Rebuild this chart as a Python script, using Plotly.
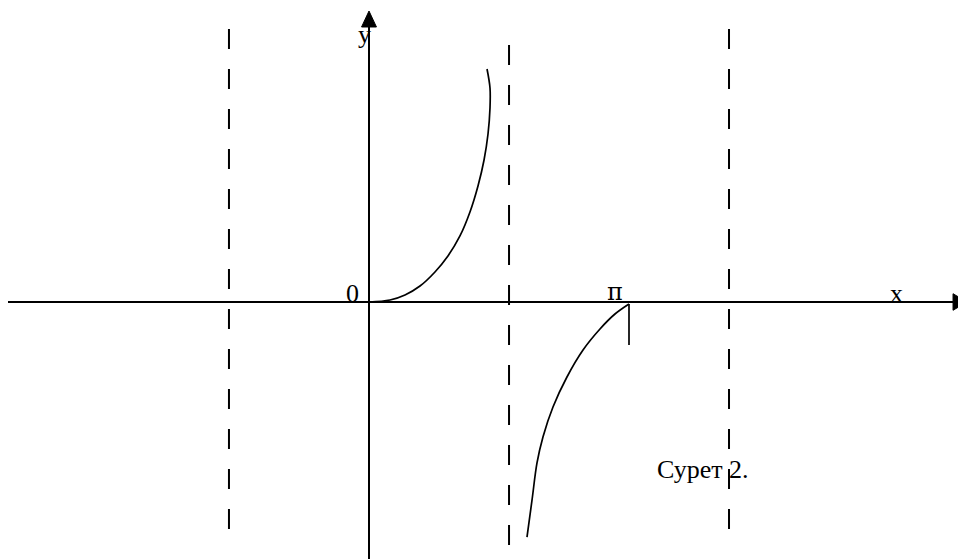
import plotly.graph_objects as go

# Scale: pixels per unit, chosen so that x = pi sits on the tick mark
UNIT = 82.76

# Vertical asymptotes (dashed)
asymptote_x = [-1.692, 1.692, 4.35]
asymptote_top = [3.299, 3.105, 3.299]
asymptote_bottom = -2.985

# Upper branch, rising from the origin towards the asymptote
branch1_x = [0.0, 0.254, 0.435, 0.616, 0.797, 0.954, 1.099, 1.220, 1.317, 1.390, 1.438, 1.462, 1.462, 1.426]
branch1_y = [0.0, 0.024, 0.085, 0.193, 0.363, 0.556, 0.798, 1.088, 1.402, 1.716, 2.030, 2.344, 2.586, 2.815]

# Lower branch, coming up to the x axis at pi
branch2_x = [1.909, 1.970, 2.030, 2.102, 2.223, 2.392, 2.586, 2.791, 2.972, 3.142]
branch2_y = [-2.840, -2.392, -1.945, -1.631, -1.269, -0.906, -0.580, -0.326, -0.145, -0.024]

# Tick mark under pi
pi_tick_x = 3.1416
pi_tick_y = [-0.024, -0.52]

# Axis extents
x_axis_from, x_axis_to, x_arrow_tip = -4.362, 7.057, 7.226
y_axis_from, y_axis_to, y_arrow_tip = -3.3, 3.323, 3.516

x_range = [-369 / UNIT, (958 - 369) / UNIT]
y_range = [(302 - 559) / UNIT, 302 / UNIT]

fig = go.Figure()
black = "#000000"

# Axes
fig.add_trace(go.Scatter(x=[x_axis_from, x_axis_to], y=[0, 0], mode="lines",
                         line=dict(color=black, width=2), hoverinfo="skip"))
fig.add_trace(go.Scatter(x=[0, 0], y=[y_axis_from, y_axis_to], mode="lines",
                         line=dict(color=black, width=2), hoverinfo="skip"))

# Arrow heads
fig.add_trace(go.Scatter(x=[x_axis_to, x_arrow_tip, x_axis_to, x_axis_to],
                         y=[0.1, 0, -0.1, 0.1], mode="lines", fill="toself",
                         fillcolor=black, line=dict(color=black, width=1), hoverinfo="skip"))
fig.add_trace(go.Scatter(x=[-0.09, 0, 0.09, -0.09],
                         y=[y_axis_to, y_arrow_tip, y_axis_to, y_axis_to], mode="lines", fill="toself",
                         fillcolor=black, line=dict(color=black, width=1), hoverinfo="skip"))

# Asymptotes
for ax, top in zip(asymptote_x, asymptote_top):
    fig.add_trace(go.Scatter(x=[ax, ax], y=[top, asymptote_bottom], mode="lines",
                             line=dict(color=black, width=2, dash="20px,20px"), hoverinfo="skip"))

# Curve branches
fig.add_trace(go.Scatter(x=branch1_x, y=branch1_y, mode="lines",
                         line=dict(color=black, width=1.7, shape="spline", smoothing=1.0),
                         hoverinfo="skip"))
fig.add_trace(go.Scatter(x=branch2_x, y=branch2_y, mode="lines",
                         line=dict(color=black, width=1.7, shape="spline", smoothing=1.0),
                         hoverinfo="skip"))

# Tick at pi
fig.add_trace(go.Scatter(x=[pi_tick_x, pi_tick_x], y=pi_tick_y, mode="lines",
                         line=dict(color=black, width=1.7), hoverinfo="skip"))

font = dict(family="Liberation Serif, Times New Roman, serif", size=26, color=black)
pi_font = dict(family="DejaVu Serif, serif", size=24, color=black)

labels = [
    dict(x=(364 - 369) / UNIT, y=(302 - 34) / UNIT, text="y", font=font),
    dict(x=(352 - 369) / UNIT, y=(302 - 293) / UNIT, text="0", font=font),
    dict(x=(615 - 369) / UNIT, y=(302 - 292) / UNIT, text="π", font=pi_font),
    dict(x=(896 - 369) / UNIT, y=(302 - 293) / UNIT, text="x", font=font),
]
for lab in labels:
    fig.add_annotation(x=lab["x"], y=lab["y"], text=lab["text"], showarrow=False,
                       xanchor="center", yanchor="middle", font=lab["font"])

fig.add_annotation(x=(655 - 369) / UNIT, y=(302 - 469) / UNIT, text="Сурет 2.",
                   showarrow=False, xanchor="left", yanchor="middle", font=font)

fig.update_layout(
    width=958, height=559,
    margin=dict(l=0, r=0, t=0, b=0),
    paper_bgcolor="white", plot_bgcolor="white",
    showlegend=False,
    xaxis=dict(range=x_range, visible=False, fixedrange=True),
    yaxis=dict(range=y_range, visible=False, fixedrange=True),
)

fig.write_html("out.html")
